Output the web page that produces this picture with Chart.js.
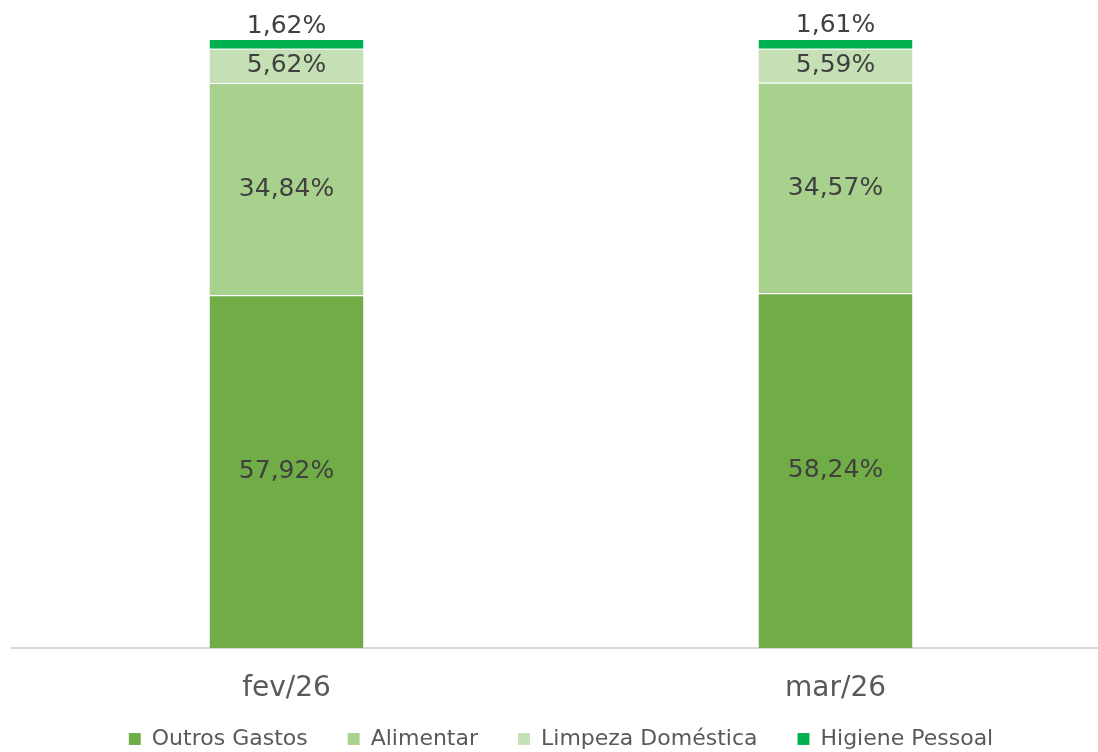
<!DOCTYPE html>
<html>
<head>
<meta charset="utf-8">
<script src="https://cdn.jsdelivr.net/npm/chart.js@4"></script>
<style>
  html, body { margin: 0; padding: 0; background: #fff; overflow: hidden; }
  #wrap { width: 1098px; height: 752px; overflow: hidden; }
</style>
</head>
<body>
<div id="wrap"><canvas id="chart"></canvas></div>
<script>
// Dados
const categorias = ['fev/26', 'mar/26'];
const outrosGastos = [57.92, 58.24];
const alimentar = [34.84, 34.57];
const limpezaDomestica = [5.62, 5.59];
const higienePessoal = [1.62, 1.61];

const canvas = document.getElementById('chart');
canvas.width = 1110;
canvas.height = 752;
const ctx = canvas.getContext('2d');

const fonte = '"DejaVu Sans", sans-serif';

// Rótulos de dados dentro das barras (o último fica acima da barra)
const rotulosPlugin = {
    id: 'rotulosPlugin',
    afterDatasetsDraw: (chart) => {
        const c = chart.ctx;
        c.save();
        c.font = `25px ${fonte}`;
        c.fillStyle = '#404040';
        c.textAlign = 'center';
        c.textBaseline = 'middle';
        const ultimo = chart.data.datasets.length - 1;
        chart.data.datasets.forEach((ds, i) => {
            const meta = chart.getDatasetMeta(i);
            meta.data.forEach((bar, j) => {
                const texto = ds.data[j].toFixed(2).replace('.', ',') + '%';
                let y = (bar.y + bar.base) / 2;
                if (i === ultimo) y = bar.y - 13;
                c.fillText(texto, bar.x, y);
            });
        });
        c.restore();
    }
};

// Ajusta altura e posição da legenda (texto perto da borda inferior)
const legendaAltura = {
    id: 'legendaAltura',
    beforeInit: (chart) => {
        const legenda = chart.legend;
        const fitOriginal = legenda.fit;
        legenda.fit = function () {
            fitOriginal.bind(legenda)();
            this.height = 46;
        };
        const drawOriginal = legenda.draw;
        legenda.draw = function () {
            const topo = this.top;
            this.top = topo - 18;
            drawOriginal.bind(legenda)();
            this.top = topo;
        };
    }
};

new Chart(ctx, {
    type: 'bar',
    data: {
        labels: categorias,
        datasets: [
            { label: 'Outros Gastos', data: outrosGastos, backgroundColor: '#70AD47' },
            { label: 'Alimentar', data: alimentar, backgroundColor: '#A9D18E' },
            { label: 'Limpeza Doméstica', data: limpezaDomestica, backgroundColor: '#C5E0B4' },
            { label: 'Higiene Pessoal', data: higienePessoal, backgroundColor: '#00B050' }
        ].map(d => Object.assign(d, {
            borderColor: 'rgba(255,255,255,0.45)',
            borderWidth: { top: 1, bottom: 0, left: 0, right: 0 },
            borderSkipped: false,
            barPercentage: 1,
            categoryPercentage: 0.2805
        }))
    },
    options: {
        responsive: false,
        maintainAspectRatio: false,
        animation: false,
        layout: {
            padding: { left: 12, right: 0, top: 39, bottom: 0 }
        },
        scales: {
            x: {
                stacked: true,
                grid: { display: false, drawTicks: false },
                border: { display: true, color: '#d9d9d9', width: 2 },
                ticks: {
                    color: '#595959',
                    font: { size: 28, family: fonte },
                    padding: 24
                },
                afterFit: (scale) => { scale.height = 58; }
            },
            y: {
                stacked: true,
                display: false,
                min: 0,
                max: 100
            }
        },
        plugins: {
            legend: {
                display: true,
                position: 'bottom',
                labels: {
                    color: '#595959',
                    font: { size: 22, family: fonte },
                    boxWidth: 12,
                    boxHeight: 12,
                    padding: 40
                }
            },
            tooltip: { enabled: false }
        }
    },
    plugins: [rotulosPlugin, legendaAltura]
});
</script>
</body>
</html>
